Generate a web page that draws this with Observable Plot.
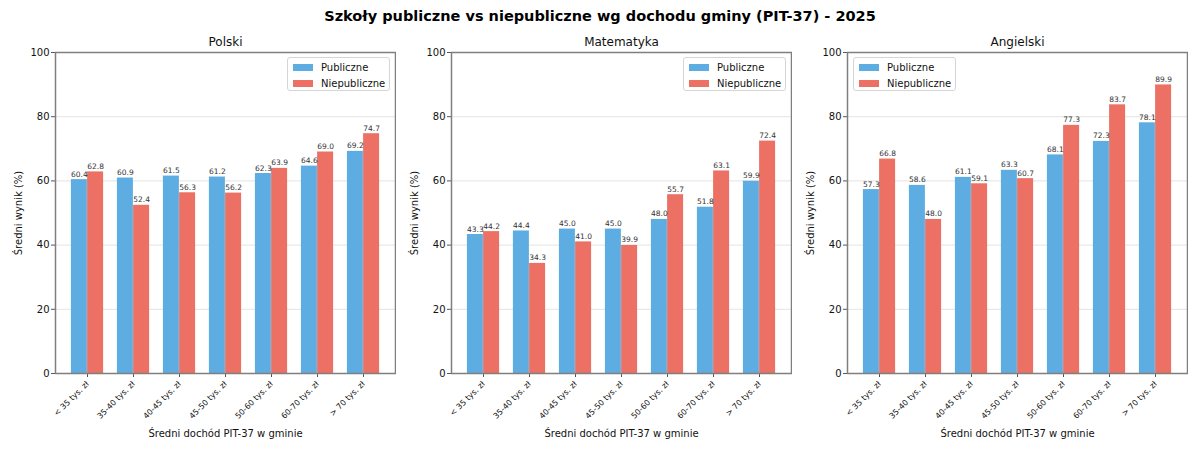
<!DOCTYPE html>
<html>
<head>
<meta charset="utf-8">
<script src="https://cdn.jsdelivr.net/npm/d3@7"></script>
<script src="https://cdn.jsdelivr.net/npm/@observablehq/plot@0.6"></script>
<style>
  body { margin: 0; background: #fff; font-family: "DejaVu Sans", sans-serif; }
  #wrap { width: 1200px; height: 450px; position: relative; }
  #title { height: 30px; line-height: 32px; text-align: center; font-weight: bold; font-size: 14.5px; color: #000; }
  #row { display: flex; }
  .panel { position: relative; width: 396px; }
  .legend { position: absolute; top: 27px; width: 101px; height: 32px; border: 1px solid #d5d5d5; border-radius: 3px; background: rgba(255,255,255,0.85); font-size: 10px; color: #111; }
  .legend .item { position: absolute; left: 5px; height: 12px; display: flex; align-items: center; }
  .legend .sw { width: 20px; height: 7px; margin-right: 8px; }
</style>
</head>
<body>
<div id="wrap">
  <div id="title">Szkoły publiczne vs niepubliczne wg dochodu gminy (PIT-37) - 2025</div>
  <div id="row"></div>
</div>
<script>
const categories = ["< 35 tys. zł", "35-40 tys. zł", "40-45 tys. zł", "45-50 tys. zł", "50-60 tys. zł", "60-70 tys. zł", "> 70 tys. zł"];
const subjects = ["Polski", "Matematyka", "Angielski"];
const seriesNames = ["Publiczne", "Niepubliczne"];
const polskiPub = [60.4, 60.9, 61.5, 61.2, 62.3, 64.6, 69.2];
const polskiNpub = [62.8, 52.4, 56.3, 56.2, 63.9, 69.0, 74.7];
const matPub = [43.3, 44.4, 45.0, 45.0, 48.0, 51.8, 59.9];
const matNpub = [44.2, 34.3, 41.0, 39.9, 55.7, 63.1, 72.4];
const angPub = [57.3, 58.6, 61.1, 63.3, 68.1, 72.3, 78.1];
const angNpub = [66.8, 48.0, 59.1, 60.7, 77.3, 83.7, 89.9];
const yTicks = [0, 20, 40, 60, 80, 100];
const yLabel = "Średni wynik (%)";
const xLabel = "Średni dochód PIT-37 w gminie";

const colors = {"Publiczne": "#5DADE2", "Niepubliczne": "#EC7063"};
const panels = [
  {title: subjects[0], pub: polskiPub, npub: polskiNpub, legendLeft: 287},
  {title: subjects[1], pub: matPub, npub: matNpub, legendLeft: 287},
  {title: subjects[2], pub: angPub, npub: angNpub, legendLeft: 61}
];

const row = document.getElementById("row");
for (const p of panels) {
  const pubData = categories.map((c, i) => ({cat: c, v: p.pub[i]}));
  const npubData = categories.map((c, i) => ({cat: c, v: p.npub[i]}));
  const chart = Plot.plot({
    width: 396,
    height: 420,
    marginLeft: 55,
    marginRight: 1,
    marginTop: 22,
    marginBottom: 77,
    style: {fontFamily: "DejaVu Sans, sans-serif", background: "transparent", color: "#111"},
    x: {type: "band", domain: categories, paddingInner: 0, paddingOuter: 0.19, label: null},
    y: {domain: [0, 100], label: null},
    marks: [
      Plot.gridY(yTicks.slice(1), {stroke: "#e4e4e4", strokeOpacity: 1}),
      Plot.barY(pubData, {x: "cat", y: "v", fill: colors["Publiczne"], insetLeft: 6.9, insetRight: 23.1}),
      Plot.barY(npubData, {x: "cat", y: "v", fill: colors["Niepubliczne"], insetLeft: 23.1, insetRight: 6.9}),
      Plot.text(pubData, {x: "cat", y: "v", text: d => d.v.toFixed(1), dx: -8.1, dy: -3, lineAnchor: "bottom", fontSize: 7.5, fill: "#333"}),
      Plot.text(npubData, {x: "cat", y: "v", text: d => d.v.toFixed(1), dx: 8.1, dy: -3, lineAnchor: "bottom", fontSize: 7.5, fill: "#333"}),
      Plot.axisY({ticks: yTicks, tickSize: 4, tickPadding: 2, fontSize: 10, stroke: "#555", label: null}),
      Plot.axisX({tickRotate: -45, tickSize: 4, tickPadding: 5, fontSize: 8, stroke: "#555", label: null}),
      Plot.frame({stroke: "#7f7f7f", strokeWidth: 1.5}),
      Plot.text([p.title], {frameAnchor: "top", lineAnchor: "middle", dy: -10, fontSize: 12, fill: "#111"}),
      Plot.text([yLabel], {frameAnchor: "left", lineAnchor: "middle", textAnchor: "middle", rotate: -90, dx: -37, fontSize: 10, fill: "#111"}),
      Plot.text([xLabel], {frameAnchor: "bottom", lineAnchor: "middle", dy: 60, fontSize: 10, fill: "#111"})
    ]
  });
  const div = document.createElement("div");
  div.className = "panel";
  div.appendChild(chart);
  const leg = document.createElement("div");
  leg.className = "legend";
  leg.style.left = p.legendLeft + "px";
  seriesNames.forEach((s, i) => {
    const it = document.createElement("div");
    it.className = "item";
    it.style.top = (3 + i * 16) + "px";
    const sw = document.createElement("span");
    sw.className = "sw";
    sw.style.background = colors[s];
    const t = document.createElement("span");
    t.textContent = s;
    it.appendChild(sw);
    it.appendChild(t);
    leg.appendChild(it);
  });
  div.appendChild(leg);
  row.appendChild(div);
}
</script>
</body>
</html>
